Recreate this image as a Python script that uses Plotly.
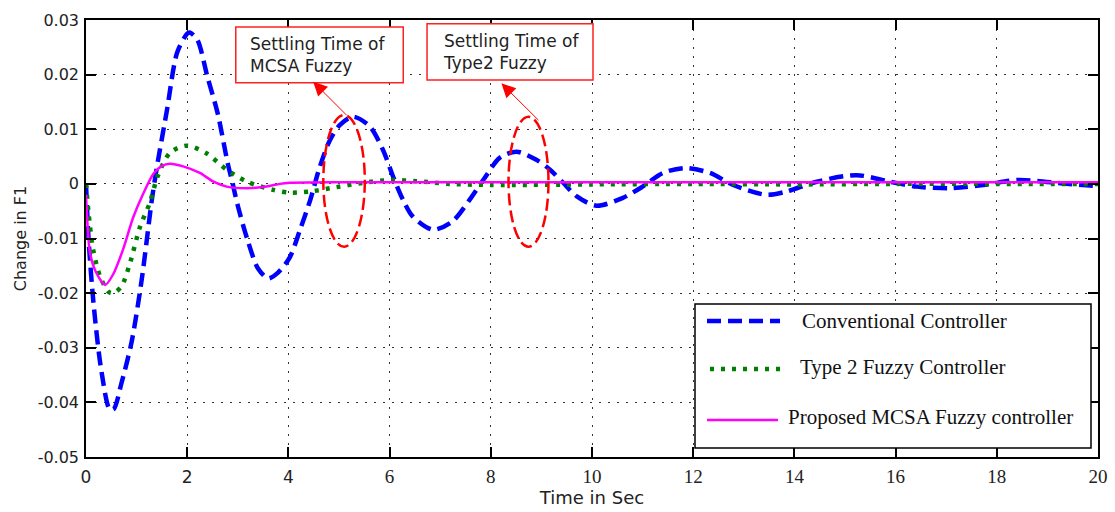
import plotly.graph_objects as go

# ---------------- data ----------------
t_conv = [0.0, 0.05, 0.15, 0.3, 0.47, 0.55, 0.7, 0.9, 1.1, 1.3, 1.4, 1.6, 1.8, 2.0, 2.05, 2.2,
          2.4, 2.6, 2.8, 2.9, 3.0, 3.2, 3.4, 3.6, 3.8, 4.03, 4.23, 4.43, 4.62, 4.82, 5.02, 5.28,
          5.61, 5.87, 6.07, 6.27, 6.46, 6.86, 7.25, 7.59, 7.85, 8.18, 8.51, 8.9, 9.17, 9.43,
          9.7, 10.09, 10.6, 11.0, 11.4, 11.85, 12.33, 12.79, 13.45, 13.85, 14.44, 15.23,
          15.89, 16.42, 17.08, 17.73, 18.39, 18.72, 19.38, 20.0]
y_conv = [0.0, -0.010, -0.022, -0.034, -0.0413, -0.0412, -0.0365, -0.029, -0.0176, -0.003,
          0.003, 0.0135, 0.024, 0.0275, 0.0277, 0.0264, 0.0196, 0.013, 0.0038, 0.0, -0.004,
          -0.0105, -0.0155, -0.0173, -0.0162, -0.0134, -0.0084, -0.003, 0.0031, 0.008, 0.0108,
          0.0123, 0.0105, 0.0062, 0.0013, -0.003, -0.006, -0.0084, -0.0068, -0.0028, 0.0007,
          0.0048, 0.0059, 0.0044, 0.0026, 0.0002, -0.0023, -0.004, -0.0026, -0.0005, 0.002,
          0.0029, 0.002, -0.0002, -0.002, -0.0014, 0.0004, 0.0016, 0.0004, -0.0005, -0.0008,
          -0.0002, 0.0007, 0.0006, 0.0, -0.0004]

t_type2 = [0.0, 0.05, 0.14, 0.28, 0.45, 0.54, 0.7, 0.87, 1.07, 1.26, 1.42, 1.66, 1.99, 2.38,
           2.78, 3.18, 3.7, 4.03, 4.43, 4.95, 5.48, 6.0, 6.53, 7.19, 8.0, 10.0, 12.0, 14.0,
           16.0, 18.0, 20.0]
y_type2 = [0.0, -0.0053, -0.012, -0.017, -0.0198, -0.0200, -0.0188, -0.0145, -0.0078, -0.0035,
           0.0015, 0.0057, 0.0070, 0.0056, 0.0026, 0.0004, -0.0011, -0.0016, -0.0014, -0.0006,
           0.0002, 0.0007, 0.0005, 0.0, -0.0002, -0.0001, 0.0, -0.0001, 0.0, 0.0, 0.0]

t_mcsa = [0.0, 0.08, 0.21, 0.38, 0.54, 0.74, 0.93, 1.13, 1.33, 1.5, 1.66, 1.92, 2.25, 2.52,
          2.78, 3.18, 3.57, 3.83, 4.03, 5.0, 8.0, 12.0, 16.0, 20.0]
y_mcsa = [-0.002, -0.0127, -0.0164, -0.0185, -0.0165, -0.0118, -0.0062, -0.0018, 0.0018,
          0.0033, 0.0037, 0.0032, 0.0020, 0.0004, -0.0005, -0.0008, -0.0005, 0.0, 0.0002,
          0.0003, 0.0003, 0.0003, 0.0003, 0.0003]

series_names = ["Conventional Controller", "Type 2 Fuzzy Controller",
                "Proposed MCSA Fuzzy controller"]

x_tick_vals = [0, 2, 4, 6, 8, 10, 12, 14, 16, 18, 20]
x_tick_labels = ["0", "2", "4", "6", "8", "10", "12", "14", "16", "18", "20"]
y_tick_vals = [0.03, 0.02, 0.01, 0, -0.01, -0.02, -0.03, -0.04, -0.05]
y_tick_labels = ["0.03", "0.02", "0.01", "0", "-0.01", "-0.02", "-0.03", "-0.04", "-0.05"]

callout_texts = ["Settling Time of<br>MCSA Fuzzy", "Settling Time of<br>Type2 Fuzzy"]

# ---------------- styling ----------------
W, H = 1115, 512
ML, MR, MT, MB = 86, 17, 20, 55
PW, PH = W - ML - MR, H - MT - MB

def px(xp):
    return (xp - ML) / PW

def py(yp):
    return (H - MB - yp) / PH

SANS = "DejaVu Sans"
SERIF = "Liberation Serif"
TXT = "#222222"

BLUE = dict(color="#0000FF", width=4.5, dash="14px,7px")
GREEN = dict(color="#008000", width=4.5, dash="4px,7px")
MAG = dict(color="#FF00FF", width=2.5)

fig = go.Figure()
fig.add_trace(go.Scatter(x=t_conv, y=y_conv, mode="lines", name=series_names[0],
                         line=dict(shape="spline", smoothing=0.8, **BLUE), showlegend=False))
fig.add_trace(go.Scatter(x=t_type2, y=y_type2, mode="lines", name=series_names[1],
                         line=dict(shape="spline", smoothing=0.8, **GREEN), showlegend=False))
fig.add_trace(go.Scatter(x=t_mcsa, y=y_mcsa, mode="lines", name=series_names[2],
                         line=dict(shape="spline", smoothing=0.7, **MAG), showlegend=False))

x_ticktext = []
for i, lab in enumerate(x_tick_labels):
    fam = SANS if i < 3 else SERIF
    size = 17 if i < 3 else 19
    x_ticktext.append(f"<span style='font-family:{fam};font-size:{size}px'>{lab}</span>")

axis_common = dict(showline=True, linecolor="black", linewidth=1.5, mirror="ticks",
                   ticks="inside", ticklen=10, tickwidth=1.5, tickcolor="black",
                   showgrid=True, gridcolor="#333333", gridwidth=1, griddash="2px,7px",
                   zeroline=False)

fig.update_xaxes(range=[0, 20], tickvals=x_tick_vals, ticktext=x_ticktext,
                 tickfont=dict(family=SANS, size=17, color=TXT), ticklabelstandoff=4,
                 title=dict(text="Time in Sec", font=dict(family=SANS, size=18, color=TXT),
                            standoff=5),
                 **axis_common)
fig.update_yaxes(range=[-0.05, 0.03], tickvals=y_tick_vals, ticktext=y_tick_labels,
                 tickfont=dict(family=SANS, size=16, color=TXT), ticklabelstandoff=2,
                 title=dict(text="Change in F1", font=dict(family=SANS, size=16, color=TXT),
                            standoff=7),
                 **axis_common)

shapes = []
annotations = []

# settling-time ellipses
for (x0, x1, y0, y1) in [(4.69, 5.51, -0.0115, 0.0126), (8.35, 9.14, -0.0115, 0.0123)]:
    shapes.append(dict(type="circle", xref="x", yref="y", x0=x0, x1=x1, y0=y0, y1=y1,
                       line=dict(color="#FF0000", width=2.5, dash="12px,5px"), layer="above"))

# callout boxes
for (x0, x1, y0, y1) in [(2.96, 6.27, 0.0185, 0.0287), (6.74, 10.02, 0.0190, 0.0293)]:
    shapes.append(dict(type="rect", xref="x", yref="y", x0=x0, x1=x1, y0=y0, y1=y1,
                       line=dict(color="#FF2020", width=1.5), fillcolor="white", layer="above"))
for txt, (tx, ty) in zip(callout_texts, [(3.20, 0.0236), (7.01, 0.02415)]):
    annotations.append(dict(text=txt, x=tx, y=ty, xref="x", yref="y", xanchor="left",
                            yanchor="middle", align="left", showarrow=False,
                            font=dict(family=SANS, size=17, color=TXT)))

# arrows from ellipses to callouts
for (hx, hy, tx, ty) in [(4.49, 0.0187, 5.18, 0.0123), (8.21, 0.0184, 8.97, 0.0114)]:
    annotations.append(dict(text="", x=hx, y=hy, ax=tx, ay=ty, xref="x", yref="y",
                            axref="x", ayref="y", showarrow=True, arrowhead=2,
                            arrowsize=2.8, arrowwidth=1, arrowcolor="#FF0000"))

# legend (drawn box with sample lines)
shapes.append(dict(type="rect", xref="paper", yref="paper", x0=px(695), x1=px(1091),
                   y0=py(448), y1=py(304), line=dict(color="black", width=1.5),
                   fillcolor="white", layer="above"))
leg_rows = [
    (321, 707, 780, BLUE, 800, 321),
    (369, 710, 782, GREEN, 798, 367),
    (420, 707, 778, MAG, 786, 417),
]
for name, (ly, lx0, lx1, lstyle, tx, ty) in zip(series_names, leg_rows):
    shapes.append(dict(type="line", xref="paper", yref="paper", x0=px(lx0), x1=px(lx1),
                       y0=py(ly), y1=py(ly), line=lstyle, layer="above"))
    annotations.append(dict(text=name, x=px(tx), y=py(ty), xref="paper", yref="paper",
                            xanchor="left", yanchor="middle", showarrow=False,
                            font=dict(family=SERIF, size=21, color="#111111")))

fig.update_layout(width=W, height=H, margin=dict(l=ML, r=MR, t=MT, b=MB, autoexpand=False),
                  paper_bgcolor="white", plot_bgcolor="white", showlegend=False,
                  shapes=shapes, annotations=annotations)

fig.write_html("out.html")
